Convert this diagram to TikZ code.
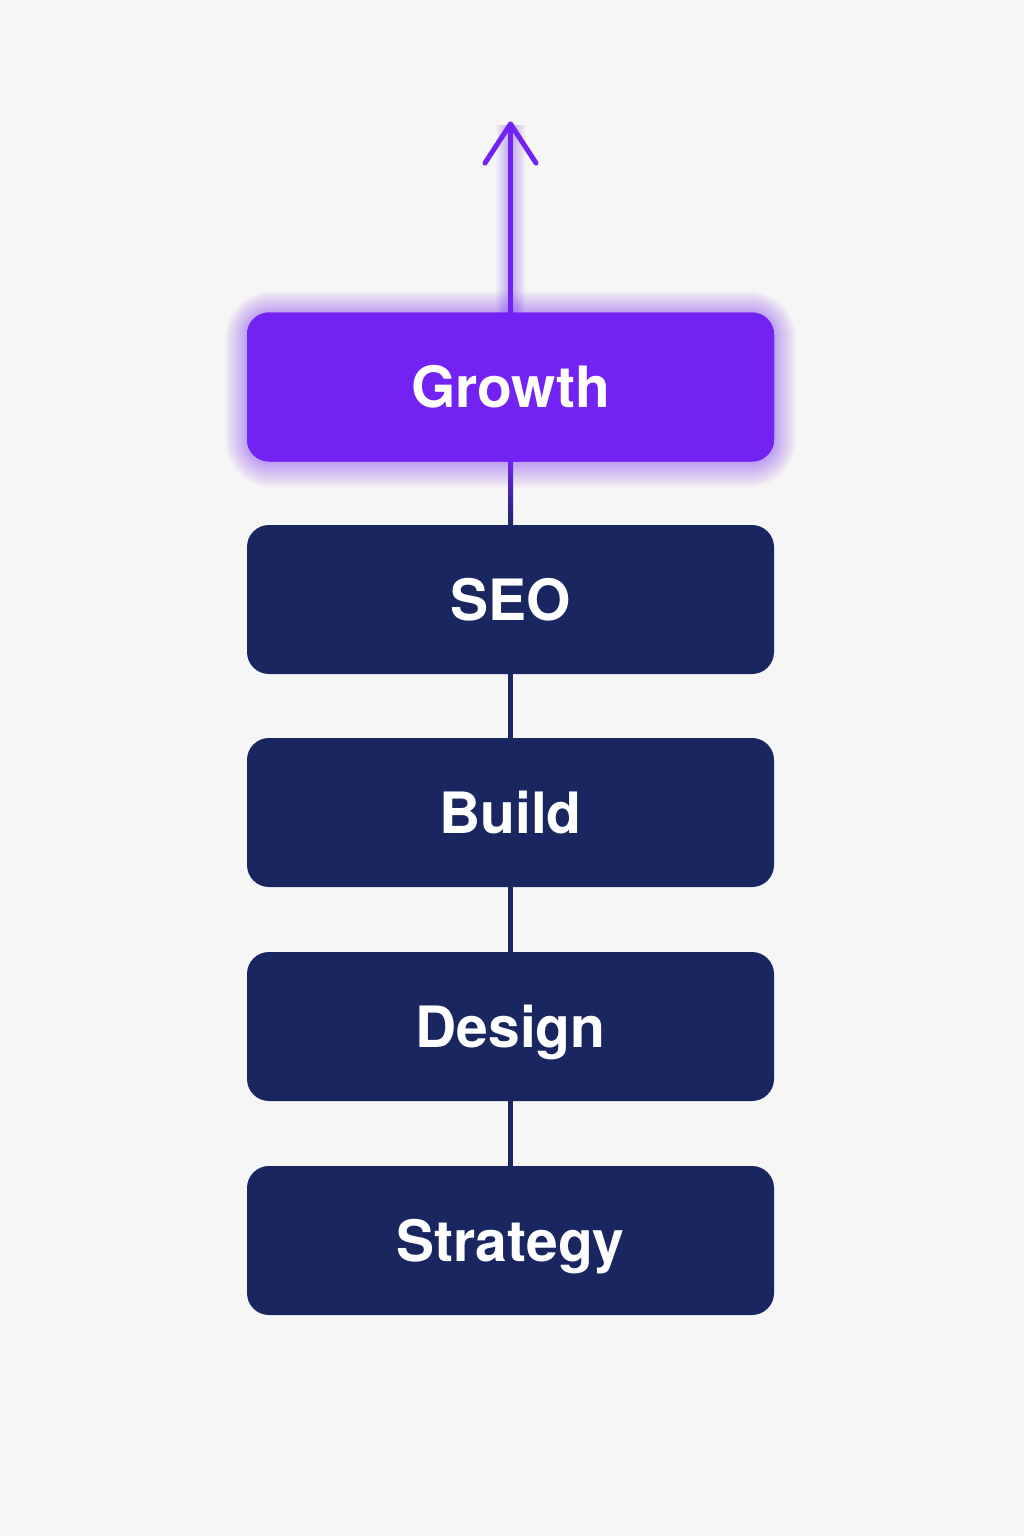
\documentclass[tikz,border=0pt]{standalone}
\usepackage{fontspec}
\setmainfont{TeX Gyre Heros}
\usetikzlibrary{calc}
\definecolor{bg}{HTML}{F6F6F6}
\definecolor{navy}{HTML}{1A2660}
\definecolor{vio}{HTML}{7222F2}
\tikzset{
  stepbox/.style={rounded corners=22pt, minimum width=527pt, minimum height=149pt,
    inner sep=0pt, text=white, font=\fontsize{57}{57}\selectfont\bfseries,
    text height=41pt, text depth=0pt, anchor=center},
  navybox/.style={stepbox, fill=navy},
  viobox/.style={stepbox, fill=vio},
  link/.style={navy, line width=5pt},
  uparrow/.style={vio, line width=5pt, line cap=round, line join=round}
}
\begin{document}
\begin{tikzpicture}[x=1pt,y=-1pt]
\fill[bg] (0,0) rectangle (1024,1536);
\useasboundingbox (0,0) rectangle (1024,1536);
% glow
\foreach \i in {1,...,26}{
  \fill[vio, opacity=0.016, rounded corners={22+\i}] ({247-\i*0.85},{313-\i*0.85}) rectangle ({774+\i*0.85},{463+\i*0.95});
  \fill[vio, opacity=0.013] ({508.5-\i*0.5},{125}) rectangle ({512.5+\i*0.5},{313});
}
\coordinate (tip) at (510.5,124);
\coordinate (lw) at (485,163);
\coordinate (rw) at (536,163);
\node[viobox] (growth) at (510.5,387) {};
\draw[uparrow] (growth.north) -- (tip);
\draw[uparrow] (lw) -- (tip) -- (rw);
\node[navybox] (seo) at (510.5,599.5) {SEO};
\node[navybox] (build) at (510.5,812.5) {Build};
\node[navybox] (design) at (510.5,1026.5) {Design};
\node[navybox] (strategy) at (510.5,1240.5) {Strategy};
\shade[top color=vio, bottom color=navy] ($(growth.south)+(-2.5,-1)$) rectangle ($(seo.north)+(2.5,1)$);
\node[viobox] (growthtop) at (growth.center) {Growth};
\draw[link] (seo.south) -- (build.north);
\draw[link] (build.south) -- (design.north);
\draw[link] (design.south) -- (strategy.north);
\end{tikzpicture}
\end{document}
